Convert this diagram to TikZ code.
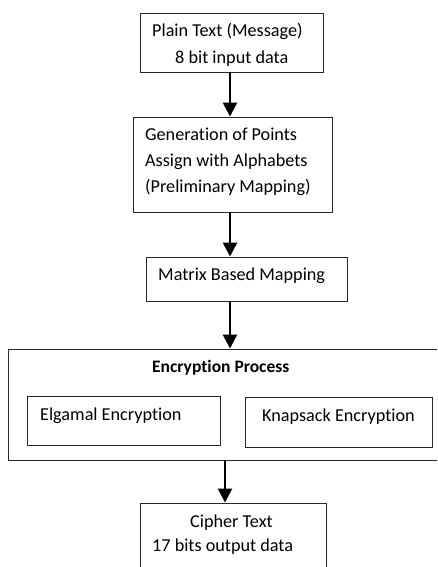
\documentclass[tikz,border=0pt]{standalone}
\usepackage{fontspec}
\setmainfont[Ligatures=NoCommon]{Carlito}
\usetikzlibrary{arrows.meta}
\begin{document}
\begin{tikzpicture}[x=1pt,y=1pt,
  box/.style={draw=black!85, line width=0.9pt, inner sep=0pt, rectangle},
  txt/.style={anchor=base west, inner sep=0pt, font=\fontsize{18.2}{21}\selectfont},
  flow/.style={line width=2.6pt, -{Triangle[width=14pt,length=14pt]}}]
\useasboundingbox (0,0) rectangle (437,-567);
\clip (0,0) rectangle (437,-567);
% boxes
\node[box, minimum width=183pt, minimum height=59pt] (b1) at (231.5,-42.5) {};
\node[box, minimum width=199pt, minimum height=95pt] (b2) at (232.5,-164.5) {};
\node[box, minimum width=201pt, minimum height=44pt] (b3) at (246.5,-279) {};
\node[box, minimum width=437pt, minimum height=111pt] (enc) at (226.5,-404.5) {};
\node[box, minimum width=193pt, minimum height=49pt] (elg) at (123.5,-420.5) {};
\node[box, minimum width=187pt, minimum height=50pt] (knap) at (338.5,-422) {};
\node[box, minimum width=186pt, minimum height=82pt] (b5) at (233,-544) {};
% texts
\node[txt] (t1a) at (152,-37) {Plain Text (Message)};
\node[txt] (t1b) at (175,-64) {8 bit input data};
\node[txt] (t2a) at (145,-140.5) {Generation of Points};
\node[txt] (t2b) at (145,-166.5) {Assign with Alphabets};
\node[txt] (t2c) at (145,-192.5) {(Preliminary Mapping)};
\node[txt] (t3) at (158,-280) {Matrix Based Mapping};
\node[txt, font=\fontsize{17.5}{21}\selectfont\bfseries] (tenc) at (152,-372.5) {Encryption Process};
\node[txt] (telg) at (40,-420) {Elgamal Encryption};
\node[txt] (tknap) at (262,-421.5) {Knapsack Encryption};
\node[txt] (t5a) at (190,-527) {Cipher Text};
\node[txt] (t5b) at (152,-551.5) {17 bits output data};
% connectors
\coordinate (ax) at (230,0);
\coordinate (bx) at (225,0);
\draw[flow] (b1.south -| ax) -- (b2.north -| ax);
\draw[flow] (b2.south -| ax) -- (b3.north -| ax);
\draw[flow] (b3.south -| ax) -- (enc.north -| ax);
\draw[flow] (enc.south -| bx) -- (b5.north -| bx);
\end{tikzpicture}
\end{document}
